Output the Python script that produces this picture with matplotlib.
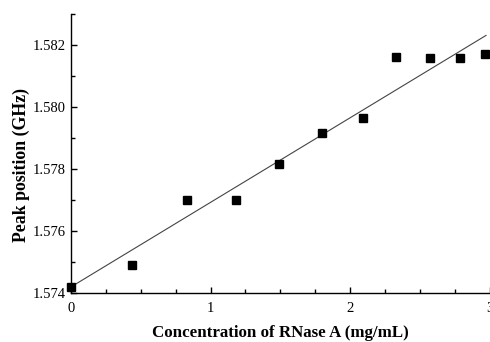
import numpy as np
import matplotlib
matplotlib.use("Agg")
import matplotlib.pyplot as plt
from matplotlib.ticker import MultipleLocator, FormatStrFormatter

# ── Data ─────────────────────────────────────────────────────────────────────
conc = [0.0, 0.44, 0.83, 1.18, 1.49, 1.80, 2.09, 2.33, 2.57, 2.79, 2.97]
peak = [1.5742, 1.5749, 1.57699, 1.57699, 1.57816, 1.57917, 1.57965,
        1.58161, 1.58158, 1.58158, 1.58170]
fit_x = [0.0, 2.975]
fit_y = [1.5742, 1.58231]

plt.rcParams["font.family"] = ["Liberation Serif", "DejaVu Serif"]

fig = plt.figure(figsize=(4.9, 3.42), dpi=100)
ax = fig.add_axes([0.145, 0.143, 0.854, 0.816])

ax.plot(fit_x, fit_y, color="#444444", linewidth=0.8, zorder=2)
ax.plot(conc, peak, linestyle="none", marker="s", markersize=6.3,
        color="black", zorder=3, clip_on=False)

ax.set_xlim(0, 3)
ax.set_ylim(1.574, 1.583)
ax.xaxis.set_major_locator(MultipleLocator(1))
ax.xaxis.set_minor_locator(MultipleLocator(0.25))
ax.yaxis.set_major_locator(MultipleLocator(0.002))
ax.yaxis.set_minor_locator(MultipleLocator(0.001))
ax.yaxis.set_major_formatter(FormatStrFormatter("%.3f"))

for s in ("top", "right"):
    ax.spines[s].set_visible(False)
for s in ("left", "bottom"):
    ax.spines[s].set_linewidth(1.0)
ax.tick_params(which="both", direction="in", width=1.0, labelsize=10.5)
ax.tick_params(which="major", length=4)
ax.tick_params(which="minor", length=3)
ax.tick_params(axis="x", which="major", pad=6.5)

ax.set_xlabel("Concentration of RNase A (mg/mL)", fontsize=12.2,
              fontweight="bold", labelpad=7)
ax.set_ylabel("Peak position (GHz)", fontsize=12.8, fontweight="bold")
ax.yaxis.set_label_coords(-0.099, 0.459)

fig.savefig("out.png", dpi=100)
